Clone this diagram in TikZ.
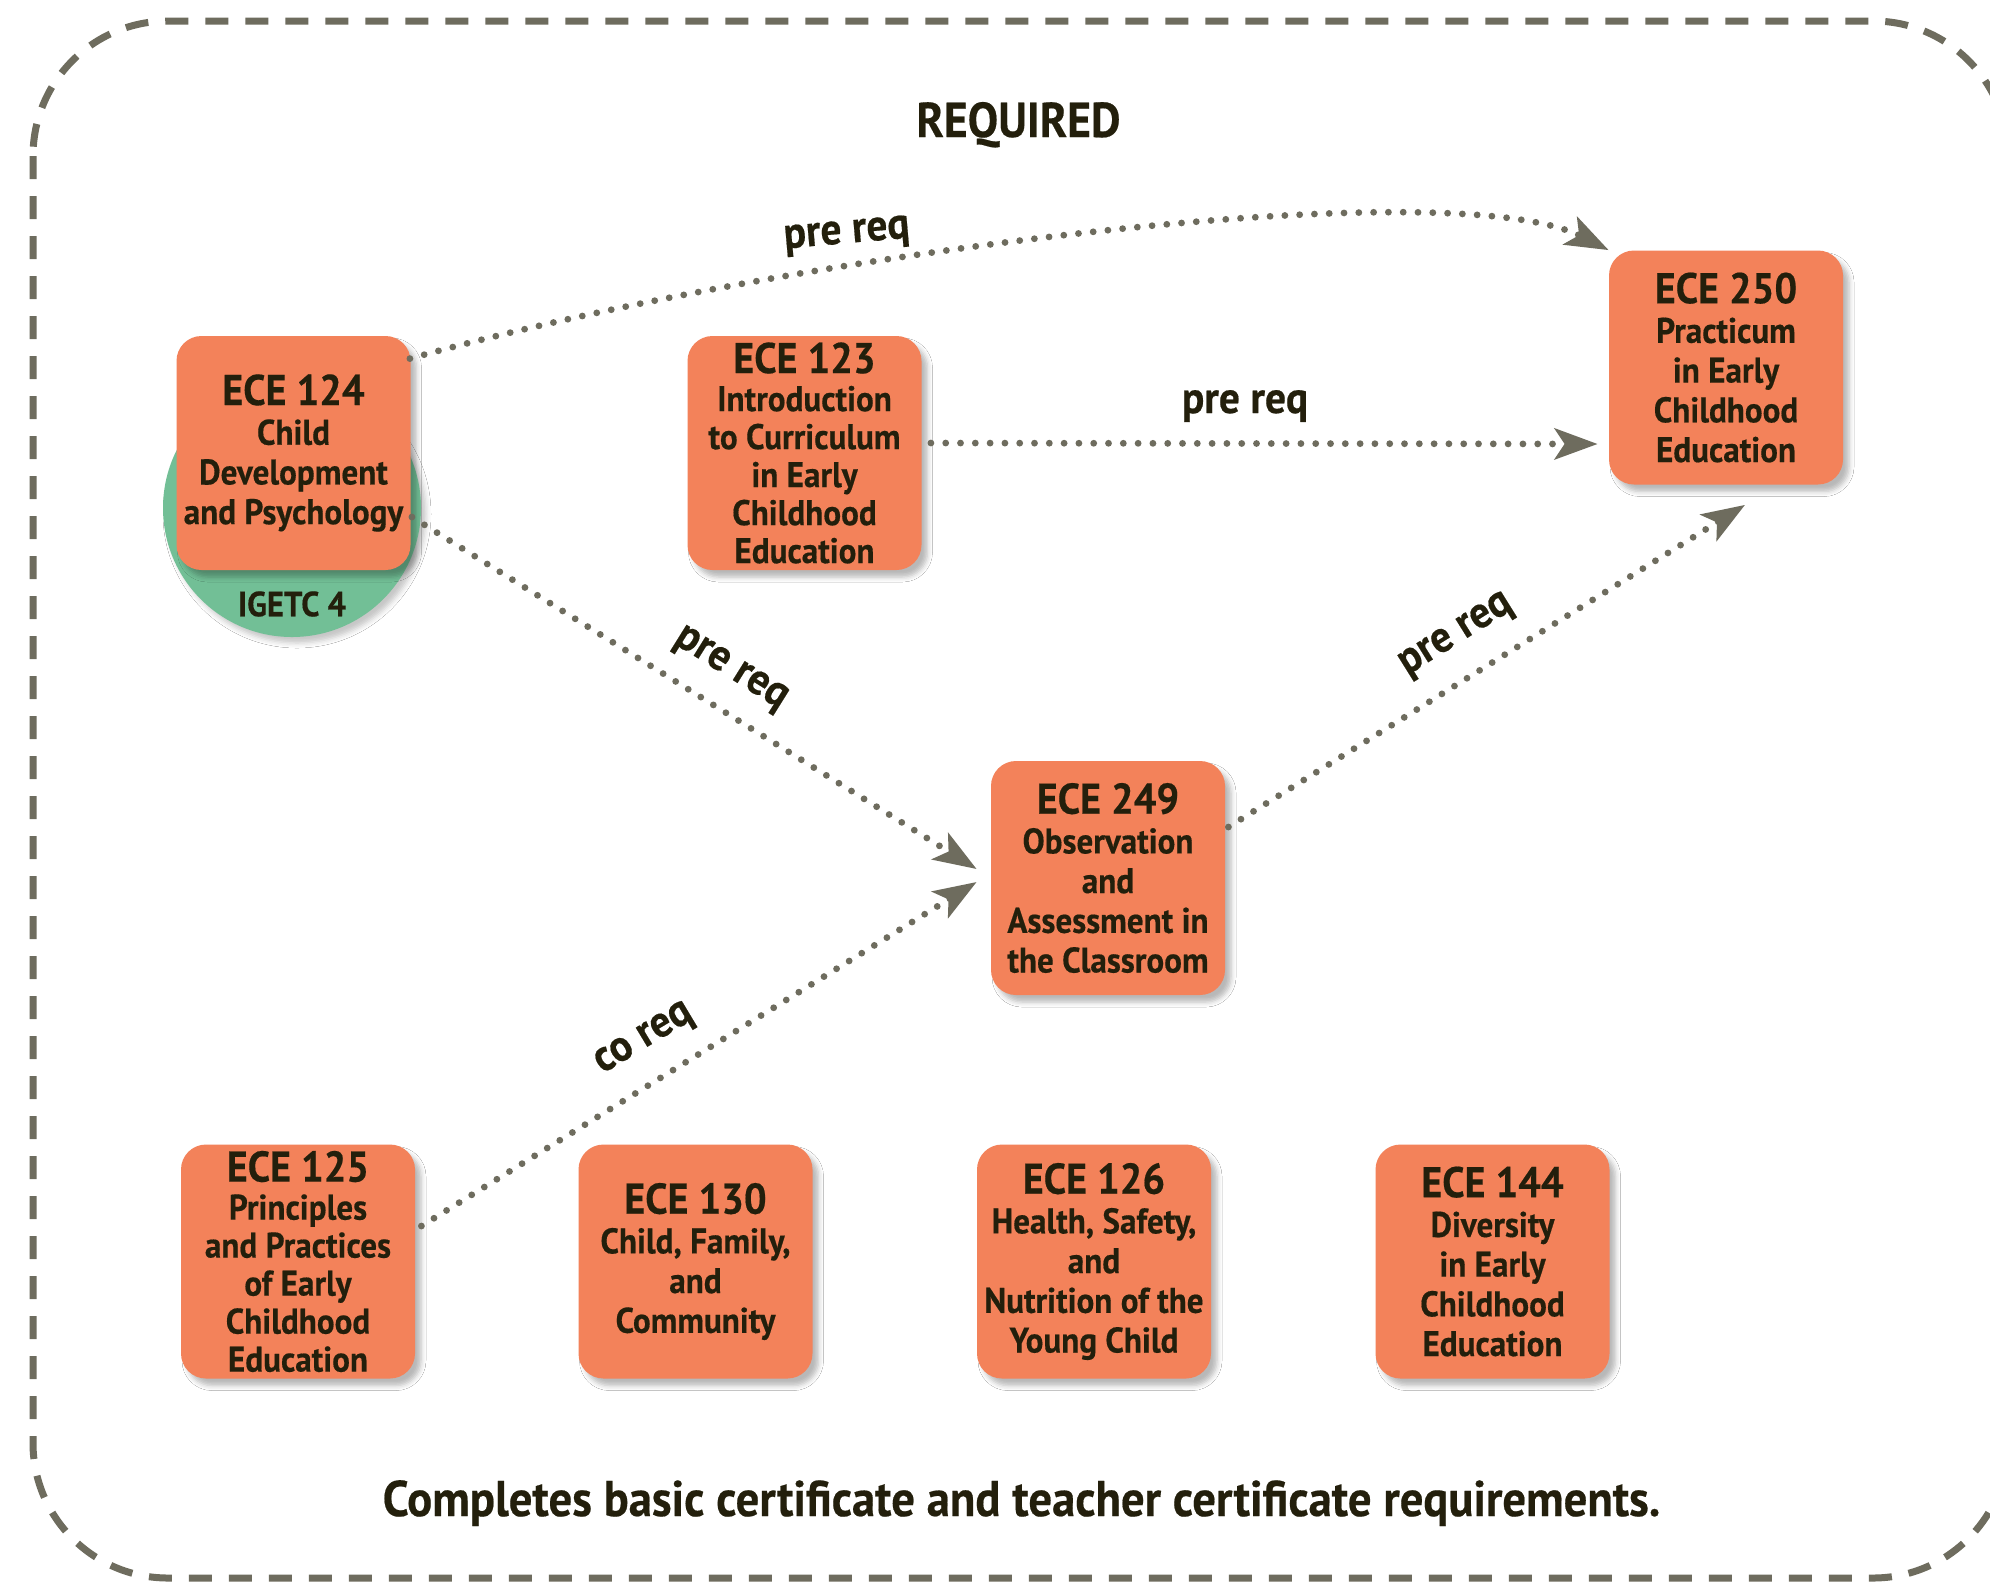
\documentclass[tikz,border=0pt]{standalone}
\usepackage{fontspec}
\newfontfamily\myfont{PT Sans}[FakeStretch=0.93,FakeBold=0.4]
\usetikzlibrary{arrows.meta,calc,shadows.blur}
\definecolor{boxorange}{HTML}{F3825A}
\definecolor{greenc}{HTML}{72BF96}
\definecolor{txt}{HTML}{231F0C}
\definecolor{arrowgray}{HTML}{6E6C5E}
\newcommand\ctitle[1]{{\fontsize{21.5}{19.85}\selectfont #1}}
\begin{document}
\begin{tikzpicture}[x=0.5pt,y=-0.5pt,
  course/.style={fill=boxorange, rounded corners=12.5pt, minimum width=117pt,
    minimum height=117pt, inner sep=0pt, align=center, text=txt,
    font=\fontsize{17.8}{19.85}\myfont\bfseries,
    blur shadow={shadow xshift=3pt, shadow yshift=-3.5pt, shadow blur radius=2.5pt, shadow opacity=28}},
  tightcourse/.style={course, font=\fontsize{17.8}{19}\myfont\bfseries},
  igetc/.style={circle, fill=greenc, minimum size=129pt, inner sep=0pt,
    blur shadow={shadow xshift=2.5pt, shadow yshift=-3pt, shadow blur radius=2.5pt, shadow opacity=22}},
  igtext/.style={text=txt, inner sep=0pt, font=\fontsize{17.5}{20}\myfont\bfseries},
  lbl/.style={text=txt, inner sep=0pt, font=\fontsize{22.3}{26}\myfont\bfseries},
  headline/.style={text=txt, inner sep=0pt, anchor=base, font=\fontsize{24.5}{28}\myfont\bfseries},
  footline/.style={text=txt, inner sep=0pt, anchor=base, font=\fontsize{25.1}{29}\myfont\bfseries},
  req/.style={draw=arrowgray, line width=3.4pt, line cap=round, dash pattern=on 0pt off 7.4pt,
    -{Stealth[length=21.5pt,width=15.5pt,inset=5pt]}},
  bordr/.style={draw=arrowgray, line width=3.5pt, dash pattern=on 11.5pt off 8.5pt, rounded corners=67.5pt}
]
\fill[white] (0,0) rectangle (1990,1581);
\useasboundingbox (0,0) rectangle (1990,1581);
\draw[bordr] (33,21) rectangle (2008,1578);

\node[headline] (reqd) at (1018.5,137) {REQUIRED};

\node[igetc] (ig) at (292,508) {};
\node[igtext] (igl) at (292,604) {IGETC 4};

\node[course] (e124) at (293.5,453) {\ctitle{ECE 124}\\Child\\Development\\and Psychology};
\node[tightcourse] (e123) at (804.5,453) {\ctitle{ECE 123}\\Introduction\\to Curriculum\\in Early\\Childhood\\Education};
\node[course] (e250) at (1726,367.5) {\ctitle{ECE 250}\\Practicum\\in Early\\Childhood\\Education};
\node[course] (e249) at (1108,878) {\ctitle{ECE 249}\\Observation\\and\\Assessment in\\the Classroom};
\node[tightcourse] (e125) at (298,1261.5) {\ctitle{ECE 125}\\Principles\\and Practices\\of Early\\Childhood\\Education};
\node[course] (e130) at (695.5,1261.5) {\ctitle{ECE 130}\\Child, Family,\\and\\Community};
\node[course] (e126) at (1094,1261.5) {\ctitle{ECE 126}\\Health, Safety,\\and\\Nutrition of the\\Young Child};
\node[course] (e144) at (1492.5,1261.5) {\ctitle{ECE 144}\\Diversity\\in Early\\Childhood\\Education};

\draw[req] ($(e124.north east)+(-1,23)$) .. controls (800,250) and (1450,170) .. (e250.north west);
\draw[req] ($(e123.east)+(9,-10)$) -- ($(e250.west)+(-11,76.5)$);
\draw[req] ($(e124.east)+(1,64)$) -- ($(e249.west)+(-14,-9)$);
\draw[req] ($(e125.east)+(6,-35.5)$) -- ($(e249.west)+(-14,4)$);
\draw[req] ($(e249.east)+(3,-51)$) -- ($(e250.south)+(19,20)$);

\node[lbl, rotate=5] (l1) at (847,236) {pre req};
\node[lbl, anchor=base] (l2) at (1245,413) {pre req};
\node[lbl, rotate=-32] (l3) at (730,670) {pre req};
\node[lbl, rotate=32] (l4) at (1457,636) {pre req};
\node[lbl, rotate=31] (l5) at (645,1040) {co req};

\node[footline] (foot) at (1021.5,1516) {Completes basic certificate and teacher certificate requirements.};
\end{tikzpicture}
\end{document}
